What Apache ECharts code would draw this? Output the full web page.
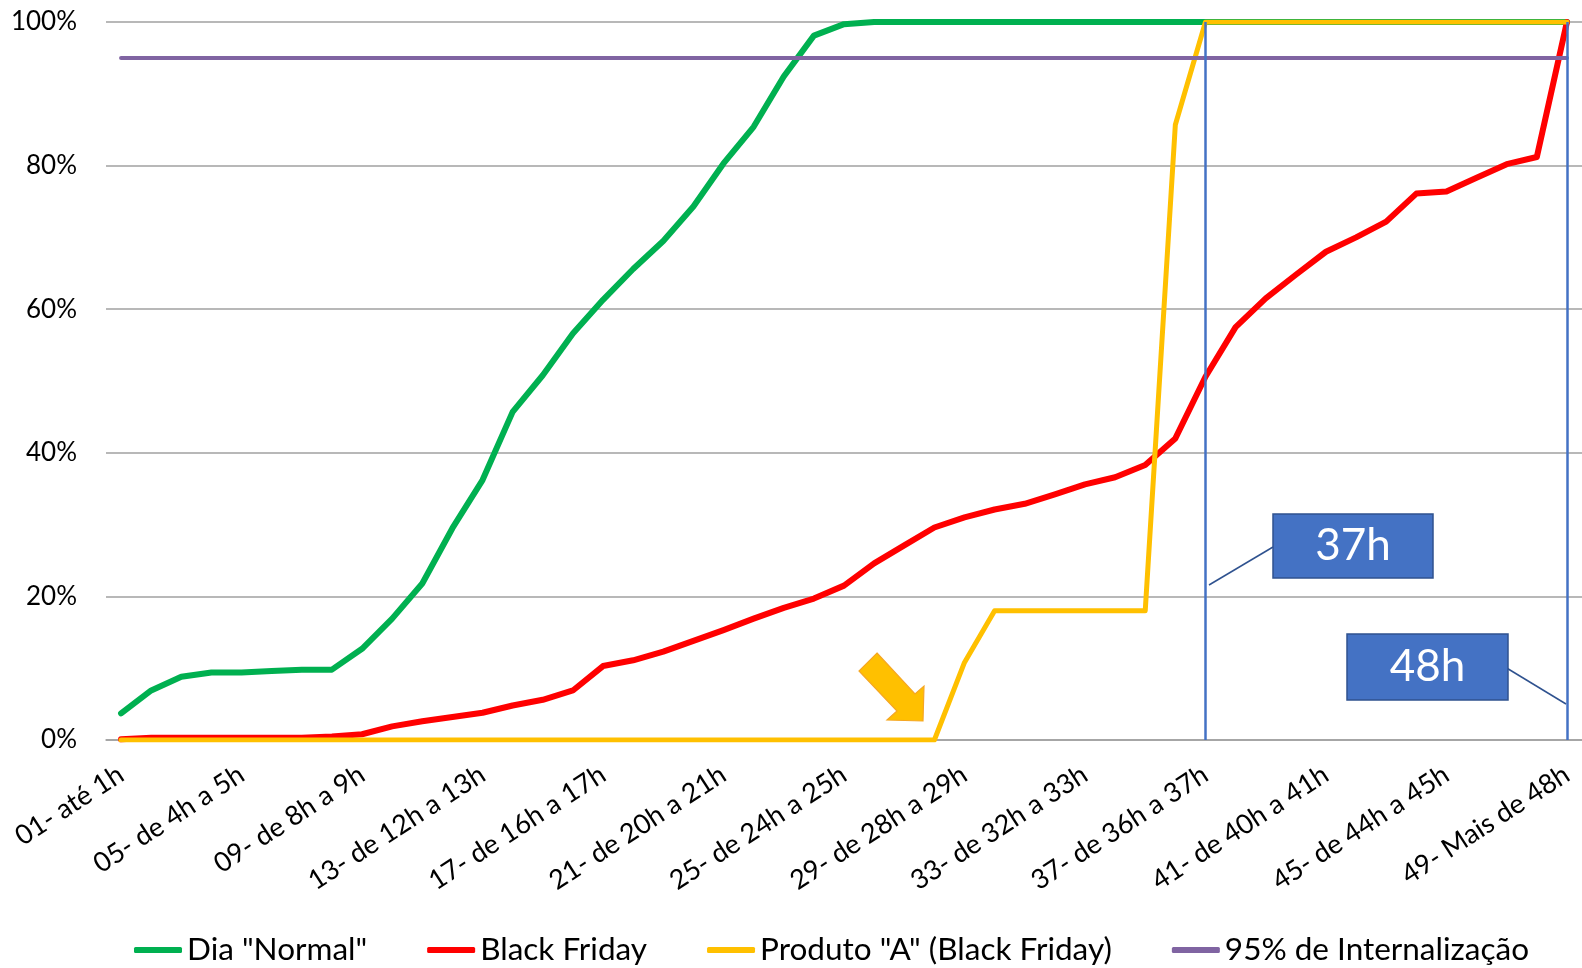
<!DOCTYPE html>
<html>
<head>
<meta charset="utf-8">
<script src="https://cdn.jsdelivr.net/npm/echarts@6/dist/echarts.min.js"></script>
<style>
html,body{margin:0;padding:0;background:#fff;}
#chart{width:1582px;height:968px;}
</style>
</head>
<body>
<div id="chart"></div>
<script>
const categories = [
 "01- até 1h","02- de 1h a 2h","03- de 2h a 3h","04- de 3h a 4h","05- de 4h a 5h","06- de 5h a 6h","07- de 6h a 7h","08- de 7h a 8h",
 "09- de 8h a 9h","10- de 9h a 10h","11- de 10h a 11h","12- de 11h a 12h","13- de 12h a 13h","14- de 13h a 14h","15- de 14h a 15h","16- de 15h a 16h",
 "17- de 16h a 17h","18- de 17h a 18h","19- de 18h a 19h","20- de 19h a 20h","21- de 20h a 21h","22- de 21h a 22h","23- de 22h a 23h","24- de 23h a 24h",
 "25- de 24h a 25h","26- de 25h a 26h","27- de 26h a 27h","28- de 27h a 28h","29- de 28h a 29h","30- de 29h a 30h","31- de 30h a 31h","32- de 31h a 32h",
 "33- de 32h a 33h","34- de 33h a 34h","35- de 34h a 35h","36- de 35h a 36h","37- de 36h a 37h","38- de 37h a 38h","39- de 38h a 39h","40- de 39h a 40h",
 "41- de 40h a 41h","42- de 41h a 42h","43- de 42h a 43h","44- de 43h a 44h","45- de 44h a 45h","46- de 45h a 46h","47- de 46h a 47h","48- de 47h a 48h",
 "49- Mais de 48h"
];
const diaNormal = [3.7,6.9,8.8,9.4,9.4,9.6,9.8,9.8,12.7,16.9,21.8,29.5,36.2,45.7,50.8,56.6,61.3,65.6,69.5,74.3,80.3,85.4,92.4,98.1,99.7,
 100,100,100,100,100,100,100,100,100,100,100,100,100,100,100,100,100,100,100,100,100,100,100,100];
const blackFriday = [0.1,0.3,0.3,0.3,0.3,0.3,0.3,0.5,0.8,1.9,2.6,3.2,3.8,4.8,5.6,6.9,10.3,11.1,12.3,13.8,15.3,16.9,18.4,19.7,21.5,
 24.6,27.1,29.6,31.0,32.1,32.9,34.2,35.6,36.6,38.3,42.0,50.6,57.5,61.5,64.8,68.0,70.0,72.2,76.1,76.4,78.3,80.2,81.2,100];
const produtoA = [0,0,0,0,0,0,0,0,0,0,0,0,0,0,0,0,0,0,0,0,0,0,0,0,0,0,0,0,10.8,18.0,18.0,18.0,18.0,18.0,18.0,85.7,
 100,100,100,100,100,100,100,100,100,100,100,100,100];
const internalizacao = categories.map(() => 95);
const seriesNames = ['Dia "Normal"','Black Friday','Produto "A" (Black Friday)','95% de Internalização'];
const markerCategories = ["37- de 36h a 37h","49- Mais de 48h"];
const markerLabels = ["37h","48h"];

const FONT = 'Lato, "Noto Sans", sans-serif';
const chart = echarts.init(document.getElementById('chart'), null, {renderer:'canvas'});

function lineSeries(name, data, color, width){
  return {name, type:'line', data, showSymbol:false, symbol:'none',
    lineStyle:{color, width, cap:'round', join:'round'}, itemStyle:{color}, animation:false};
}

const option = {
  animation:false,
  backgroundColor:'#fff',
  grid:{left:106, right:0, top:22, bottom:228, containLabel:false},
  xAxis:{type:'category', data:categories, boundaryGap:true,
    axisLine:{show:true, lineStyle:{color:'#a0a0a0', width:1.5}},
    axisTick:{show:false},
    axisLabel:{interval:3, rotate:33, margin:32, fontSize:27, color:'#000', fontFamily:FONT}},
  yAxis:{type:'value', min:0, max:100, interval:20,
    axisLine:{show:false}, axisTick:{show:false},
    splitLine:{lineStyle:{color:'#a0a0a0', width:1.5}},
    axisLabel:{formatter:'{value}%', fontSize:26, color:'#000', margin:29, fontFamily:FONT}},
  legend:{left:129, top:929, icon:'roundRect', itemWidth:48, itemHeight:6, itemGap:60,
    textStyle:{fontSize:31.5, color:'#000', fontFamily:FONT},
    data:seriesNames},
  series:[
    lineSeries(seriesNames[0], diaNormal, '#00B050', 6),
    lineSeries(seriesNames[1], blackFriday, '#FF0000', 6),
    lineSeries(seriesNames[2], produtoA, '#FFC000', 5),
    lineSeries(seriesNames[3], internalizacao, '#8064A2', 4),
    {type:'line', data:[], z:5, silent:true,
     markLine:{symbol:'none', silent:true, label:{show:false},
       lineStyle:{color:'#4472C4', width:2.5, type:'solid'},
       data: markerCategories.map(c => ({xAxis:c}))}}
  ]
};
chart.setOption(option);

// annotations
const g = [];
const boxes = [
  {x:1273, y:514, w:160, h:64, text:markerLabels[0], line:[1273,547,1209,585]},
  {x:1347, y:634, w:161, h:66, text:markerLabels[1], line:[1505,667,1566,704]}
];
boxes.forEach(b => {
  g.push({type:'line', z:100, shape:{x1:b.line[0],y1:b.line[1],x2:b.line[2],y2:b.line[3]}, style:{stroke:'#2F528F', lineWidth:1.5}});
  g.push({type:'rect', z:100, shape:{x:b.x, y:b.y, width:b.w, height:b.h}, style:{fill:'#4472C4', stroke:'#2F528F', lineWidth:1.5}});
  g.push({type:'text', z:101, x:b.x + b.w/2, y:b.y + b.h/2, style:{text:b.text, fill:'#fff', font:'44px ' + FONT, align:'center', verticalAlign:'middle'}});
});
g.push({type:'polygon', z:100, shape:{points:[[877,653],[915,694],[924,686],[923,721],[887,720],[897,711],[859,671]]},
  style:{fill:'#FFC000', stroke:'#F5A623', lineWidth:1.2}});
chart.setOption({graphic:g});
</script>
</body>
</html>
